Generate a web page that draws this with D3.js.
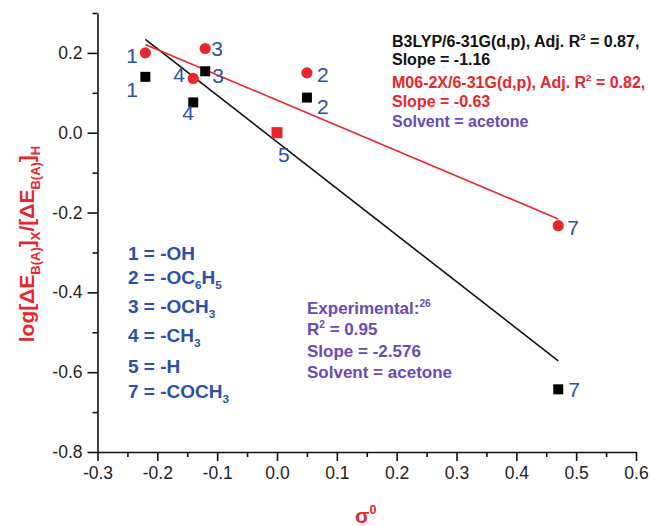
<!DOCTYPE html>
<html>
<head>
<meta charset="utf-8">
<script src="https://cdn.jsdelivr.net/npm/d3@7"></script>
<style>
  body { margin: 0; background: #fff; }
  svg { display: block; font-family: "Liberation Sans", Arial, sans-serif; }
</style>
</head>
<body>
<div id="chart"></div>
<script>
// substituent numbers and Hammett sigma0 values
var substituents = ["1", "2", "3", "4", "5", "7"];
var sigma = [-0.22, 0.05, -0.12, -0.14, 0.0, 0.47];
// log ratios per functional
var b3lyp = [0.14, 0.088, 0.154, 0.076, 0.0, -0.643];
var m062x = [0.20, 0.15, 0.211, 0.136, 0.0, -0.233];

var xTicks = [-0.3, -0.2, -0.1, 0.0, 0.1, 0.2, 0.3, 0.4, 0.5, 0.6];
var yTicks = [-0.8, -0.6, -0.4, -0.2, 0.0, 0.2];

var legendKey = ["1 = -OH", "2 = -OC|6|H|5", "3 = -OCH|3", "4 = -CH|3", "5 = -H", "7 = -COCH|3"];

var width = 650, height = 526;
var margin = { top: 13, right: 14, bottom: 74, left: 97.5 };

var svg = d3.select("#chart").append("svg")
    .attr("width", width)
    .attr("height", height);

var x = d3.scaleLinear().domain([-0.3, 0.6]).range([margin.left, width - margin.right]);
var y = d3.scaleLinear().domain([-0.8, 0.3]).range([height - margin.bottom, margin.top]);

var fmt = function (d) { return d.toFixed(1); };

// axes (major + minor ticks)
var xMinor = xTicks.slice(0, -1).map(function (d) { return +(d + 0.05).toFixed(2); });
var yMinor = [-0.7, -0.5, -0.3, -0.1, 0.1, 0.3];

var gx = svg.append("g").attr("transform", "translate(0," + y(-0.8) + ")");
gx.call(d3.axisBottom(x).tickValues(xTicks).tickFormat(fmt).tickSize(9).tickSizeOuter(0).tickPadding(6));
gx.append("g").call(d3.axisBottom(x).tickValues(xMinor).tickFormat("").tickSize(5).tickSizeOuter(0))
    .select(".domain").remove();

var gy = svg.append("g").attr("transform", "translate(" + x(-0.3) + ",0)");
gy.call(d3.axisLeft(y).tickValues(yTicks).tickFormat(fmt).tickSize(10).tickSizeOuter(0).tickPadding(5));
gy.append("g").call(d3.axisLeft(y).tickValues(yMinor).tickFormat("").tickSize(5).tickSizeOuter(0))
    .select(".domain").remove();

svg.selectAll(".domain, .tick line").attr("stroke", "#111").attr("stroke-width", 1.6);
svg.selectAll(".tick text").attr("font-size", 17.5).attr("fill", "#222")
    .attr("font-family", "Liberation Sans, Arial, sans-serif");

// least squares fit
function fit(xs, ys) {
    var mx = d3.mean(xs), my = d3.mean(ys);
    var sxy = d3.sum(xs, function (v, i) { return (v - mx) * (ys[i] - my); });
    var sxx = d3.sum(xs, function (v) { return (v - mx) * (v - mx); });
    var b = sxy / sxx;
    return { slope: b, icpt: my - b * mx };
}
var ext = d3.extent(sigma);
function drawFit(ys, color) {
    var f = fit(sigma, ys);
    svg.append("line")
        .attr("x1", x(ext[0])).attr("y1", y(f.icpt + f.slope * ext[0]))
        .attr("x2", x(ext[1])).attr("y2", y(f.icpt + f.slope * ext[1]))
        .attr("stroke", color).attr("stroke-width", 1.6);
}
drawFit(b3lyp, "#111");
drawFit(m062x, "#e8262b");

var blue = "#2c4fa9", red = "#e8262b", purple = "#6a49b6";

// B3LYP squares
svg.selectAll(".sq").data(sigma).enter().append("rect")
    .attr("x", function (d) { return x(d) - 5; })
    .attr("y", function (d, i) { return y(b3lyp[i]) - 5; })
    .attr("width", 10).attr("height", 10)
    .attr("fill", "#000");

// M06-2X circles (the reference point at sigma = 0 is plotted as a square)
sigma.forEach(function (d, i) {
    if (d === 0) {
        svg.append("rect").attr("x", x(d) - 5.5).attr("y", y(m062x[i]) - 5.5)
            .attr("width", 11).attr("height", 11).attr("fill", red);
    } else {
        svg.append("circle").attr("cx", x(d)).attr("cy", y(m062x[i]))
            .attr("r", 5.6).attr("fill", red);
    }
});

// point number labels: offsets from the marker in px
var labelPos = [
    { s: "b", i: 0, dx: -19, dy: 20 }, { s: "m", i: 0, dx: -19, dy: 10 },
    { s: "b", i: 1, dx: 10, dy: 16 },  { s: "m", i: 1, dx: 10, dy: 9 },
    { s: "b", i: 2, dx: 7, dy: 12 },   { s: "m", i: 2, dx: 6, dy: 7 },
    { s: "b", i: 3, dx: -11, dy: 18 }, { s: "m", i: 3, dx: -20, dy: 4 },
    { s: "b", i: 4, dx: 1, dy: 29 },
    { s: "b", i: 5, dx: 10, dy: 8 },   { s: "m", i: 5, dx: 9, dy: 9 }
];
svg.selectAll(".lbl").data(labelPos).enter().append("text")
    .attr("x", function (d) { return x(sigma[d.i]) + d.dx; })
    .attr("y", function (d) { return y((d.s === "b" ? b3lyp : m062x)[d.i]) + d.dy; })
    .attr("font-size", 21).attr("fill", blue)
    .text(function (d) { return substituents[d.i]; });

// rich text helper: parts with k = "sub" / "sup" shift the baseline
function rich(sel, parts, size) {
    var cur = 0;
    parts.forEach(function (p) {
        var target = 0, fs = size;
        if (p.k === "sub") { target = size * 0.28; fs = size * 0.62; }
        else if (p.k === "sup") { target = -size * 0.42; fs = size * 0.6; }
        sel.append("tspan").attr("dy", target - cur).attr("font-size", fs).text(p.t);
        cur = target;
    });
}
function subParts(str) {
    return str.split("|").map(function (s, j) { return { t: s, k: j % 2 ? "sub" : null }; });
}

// substituent key
var keyBase = [260, 284, 313, 342, 373, 398];
legendKey.forEach(function (s, j) {
    var t = svg.append("text").attr("x", 128).attr("y", keyBase[j])
        .attr("font-weight", "bold").attr("fill", blue);
    rich(t, subParts(s), 19);
});

// top right annotations
var topLines = [
    { c: "#111", p: [{ t: "B3LYP/6-31G(d,p), Adj. R" }, { t: "2", k: "sup" }, { t: " = 0.87," }] },
    { c: "#111", p: [{ t: "Slope = -1.16" }] },
    { c: red, p: [{ t: "M06-2X/6-31G(d,p), Adj. R" }, { t: "2", k: "sup" }, { t: " = 0.82," }] },
    { c: red, p: [{ t: "Slope = -0.63" }] },
    { c: purple, p: [{ t: "Solvent = acetone" }] }
];
var topBase = [47, 65, 88, 107, 127];
topLines.forEach(function (l, j) {
    var t = svg.append("text").attr("x", 392).attr("y", topBase[j])
        .attr("font-weight", "bold").attr("fill", l.c);
    rich(t, l.p, 16);
});

// experimental annotation
var expLines = [
    [{ t: "Experimental:" }, { t: "26", k: "sup" }],
    [{ t: "R" }, { t: "2", k: "sup" }, { t: " = 0.95" }],
    [{ t: "Slope = -2.576" }],
    [{ t: "Solvent = acetone" }]
];
var expBase = [314, 335, 357, 378];
expLines.forEach(function (p, j) {
    var t = svg.append("text").attr("x", 307).attr("y", expBase[j])
        .attr("font-weight", "bold").attr("fill", purple);
    rich(t, p, 17);
});

// axis titles
var yl = svg.append("text")
    .attr("transform", "translate(34," + 244 + ") rotate(-90)")
    .attr("text-anchor", "middle")
    .attr("font-weight", "bold").attr("fill", red);
rich(yl, [{ t: "log[\u0394E" }, { t: "B(A)", k: "sub" }, { t: "]" }, { t: "X", k: "sub" },
          { t: "/[\u0394E" }, { t: "B(A)", k: "sub" }, { t: "]" }, { t: "H", k: "sub" }], 21);

var xl = svg.append("text").attr("x", 355).attr("y", 523)
    .attr("font-weight", "bold").attr("fill", red);
rich(xl, [{ t: "\u03c3" }, { t: "0", k: "sup" }], 21);
</script>
</body>
</html>
